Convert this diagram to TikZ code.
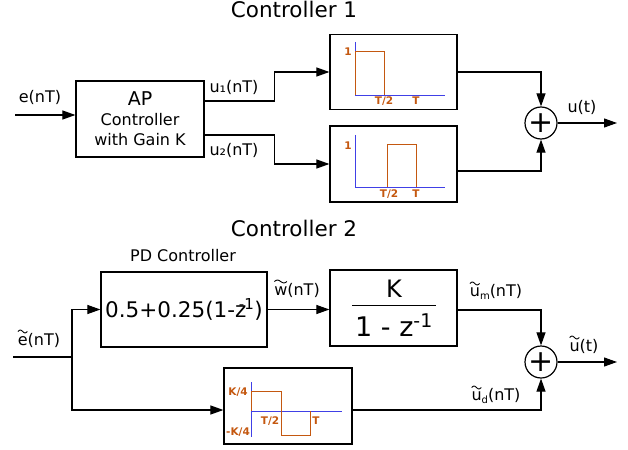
\documentclass[tikz,border=0pt]{standalone}
\usepackage{fontspec}
\setmainfont{DejaVu Sans}
\usetikzlibrary{arrows.meta,calc}
\definecolor{pulse}{RGB}{196,88,16}
\definecolor{axisblue}{RGB}{64,64,230}
% small lowered subscript letter
\newcommand{\lsub}[1]{\raisebox{-0.3ex}{\fontsize{10}{10}\selectfont #1}}
% wide tilde drawn over the first letter of a label node: node name, letter width
\newcommand{\tildeover}[2]{%
  \begin{scope}[shift={(#1.west)}]
    \draw[line width=0.9pt] plot[domain=0:1,samples=21,smooth,variable=\t]
      ({0.3+(#2)*\t},{-8.5-1.4*sin(360*\t)});
  \end{scope}}
\begin{document}
\begin{tikzpicture}[x=1pt,y=-1pt,
  block/.style={draw,line width=1.2pt,inner sep=0pt,align=center},
  sumnode/.style={draw,circle,line width=1.2pt,minimum size=32pt,inner sep=0pt,font=\fontsize{30}{30}\selectfont},
  wire/.style={line width=1.1pt},
  arr/.style={wire,-{Triangle[length=13pt,width=9pt]}},
  lbl/.style={font=\fontsize{16}{18}\selectfont,inner sep=0pt},
  title/.style={font=\fontsize{21.5}{24}\selectfont,inner sep=0pt},
  ax/.style={axisblue,line width=0.9pt},
  wave/.style={pulse,line width=0.9pt},
  tick/.style={pulse,font=\bfseries\fontsize{10.5}{10.5}\selectfont,inner sep=0pt}]
\useasboundingbox (0,0) rectangle (628,449);

% ---------------- Controller 1 ----------------
\node[title] (t1) at (294,9) {Controller 1};
\node[block,minimum width=128pt,minimum height=76pt,font=\fontsize{16}{20}\selectfont] (ap) at (140,119)
  {\fontsize{19}{20}\selectfont AP\\Controller\\with Gain K};
\node[block,minimum width=127pt,minimum height=75pt] (p1) at (393.5,72) {};
\node[block,minimum width=127pt,minimum height=76pt] (p2) at (393.5,164) {};
\node[sumnode] (s1) at (541,123) {+};

\coordinate (ein) at (15,115);
\draw[arr] (ein) -- (ein -| ap.west);
\node[lbl] (le) at (40,97) {e(nT)};
\draw[arr] ([yshift=18pt]ap.east) -- ++(70,0) |- (p1.west);
\node[lbl] (lu1) at (234,87) {u₁(nT)};
\draw[arr] ([yshift=-16pt]ap.east) -- ++(70,0) |- (p2.west);
\node[lbl] (lu2) at (234,150) {u₂(nT)};
\draw[arr] (p1.east) -| (s1.north);
\draw[arr] ([yshift=-7pt]p2.east) -| (s1.south);
\coordinate (uout) at (617,123);
\draw[arr] (s1.east) -- (uout);
\node[lbl] (lu) at (582,107) {u(t)};

% pulse on [0, T/2]
\draw[ax] (355,42) -- (355,95) -- (445,95);
\draw[wave] (355,95) -- (355,51) -- (384,51) -- (384,95);
\node[tick] (p1a) at (348,52) {1};
\node[tick] (p1b) at (384,101) {T/2};
\node[tick] (p1c) at (416,101) {T};
% pulse on [T/2, T]
\draw[ax] (355,135) -- (355,187) -- (445,187);
\draw[wave] (387,187) -- (387,144) -- (416,144) -- (416,187);
\node[tick] (p2a) at (348,146) {1};
\node[tick] (p2b) at (389,194) {T/2};
\node[tick] (p2c) at (416,194) {T};

% ---------------- Controller 2 ----------------
\node[title] (t2) at (294,228) {Controller 2};
\node[lbl] (lpd) at (183,256) {PD Controller};
\node[block,minimum width=166pt,minimum height=75pt,font=\fontsize{21.5}{24}\selectfont] (pd) at (184,309.5)
  {0.5+0.25(1-z\kern-0.35em\textsuperscript{-1})};
\node[block,minimum width=127pt,minimum height=76pt] (kb) at (393.5,308) {};
\node[font=\fontsize{24}{24}\selectfont,inner sep=0pt] (kn) at (394,289) {K};
\draw[line width=0.8pt] (352,305) -- (436,305);
\node[font=\fontsize{27}{27}\selectfont,inner sep=0pt] (kd) at (394,325) {1 - z\textsuperscript{-1}};
\node[block,minimum width=128pt,minimum height=76pt] (p3) at (288,406) {};
\node[sumnode] (s2) at (541,362) {+};

\coordinate (ein2) at (13,357);
\coordinate (br) at (72,357);
\node[lbl] (le2) at (39,340) {e(nT)};
\tildeover{le2}{9.4}
\draw[wire] (ein2) -- (br);
\draw[arr] (br) |- (pd.west);
\draw[arr] (br) |- ([yshift=-4pt]p3.west);
\draw[arr] (pd.east) -- (pd.east -| kb.west);
\node[lbl] (lw) at (297,290) {w(nT)};
\tildeover{lw}{12.6}
\draw[arr] ([yshift=-2pt]kb.east) -| (s2.north);
\node[lbl] (lum) at (496,292) {u\lsub{m}(nT)};
\tildeover{lum}{9.6}
\draw[arr] ([yshift=-4pt]p3.east) -| (s2.south);
\node[lbl] (lud) at (496,396) {u\lsub{d}(nT)};
\tildeover{lud}{9.6}
\coordinate (uout2) at (617,362);
\draw[arr] (s2.east) -- (uout2);
\node[lbl] (lu2t) at (584,346) {u(t)};
\tildeover{lu2t}{9.6}

% bipolar pulse
\draw[ax] (251,382) -- (251,437);
\draw[ax] (251,411) -- (342,411);
\draw[wave] (251,411) -- (251,391) -- (281,391) -- (281,435) -- (310,435) -- (310,411);
\node[tick] (p3a) at (238,392) {K/4};
\node[tick] (p3b) at (238,432) {-K/4};
\node[tick] (p3c) at (270,421) {T/2};
\node[tick] (p3d) at (316,421) {T};
\end{tikzpicture}
\end{document}
